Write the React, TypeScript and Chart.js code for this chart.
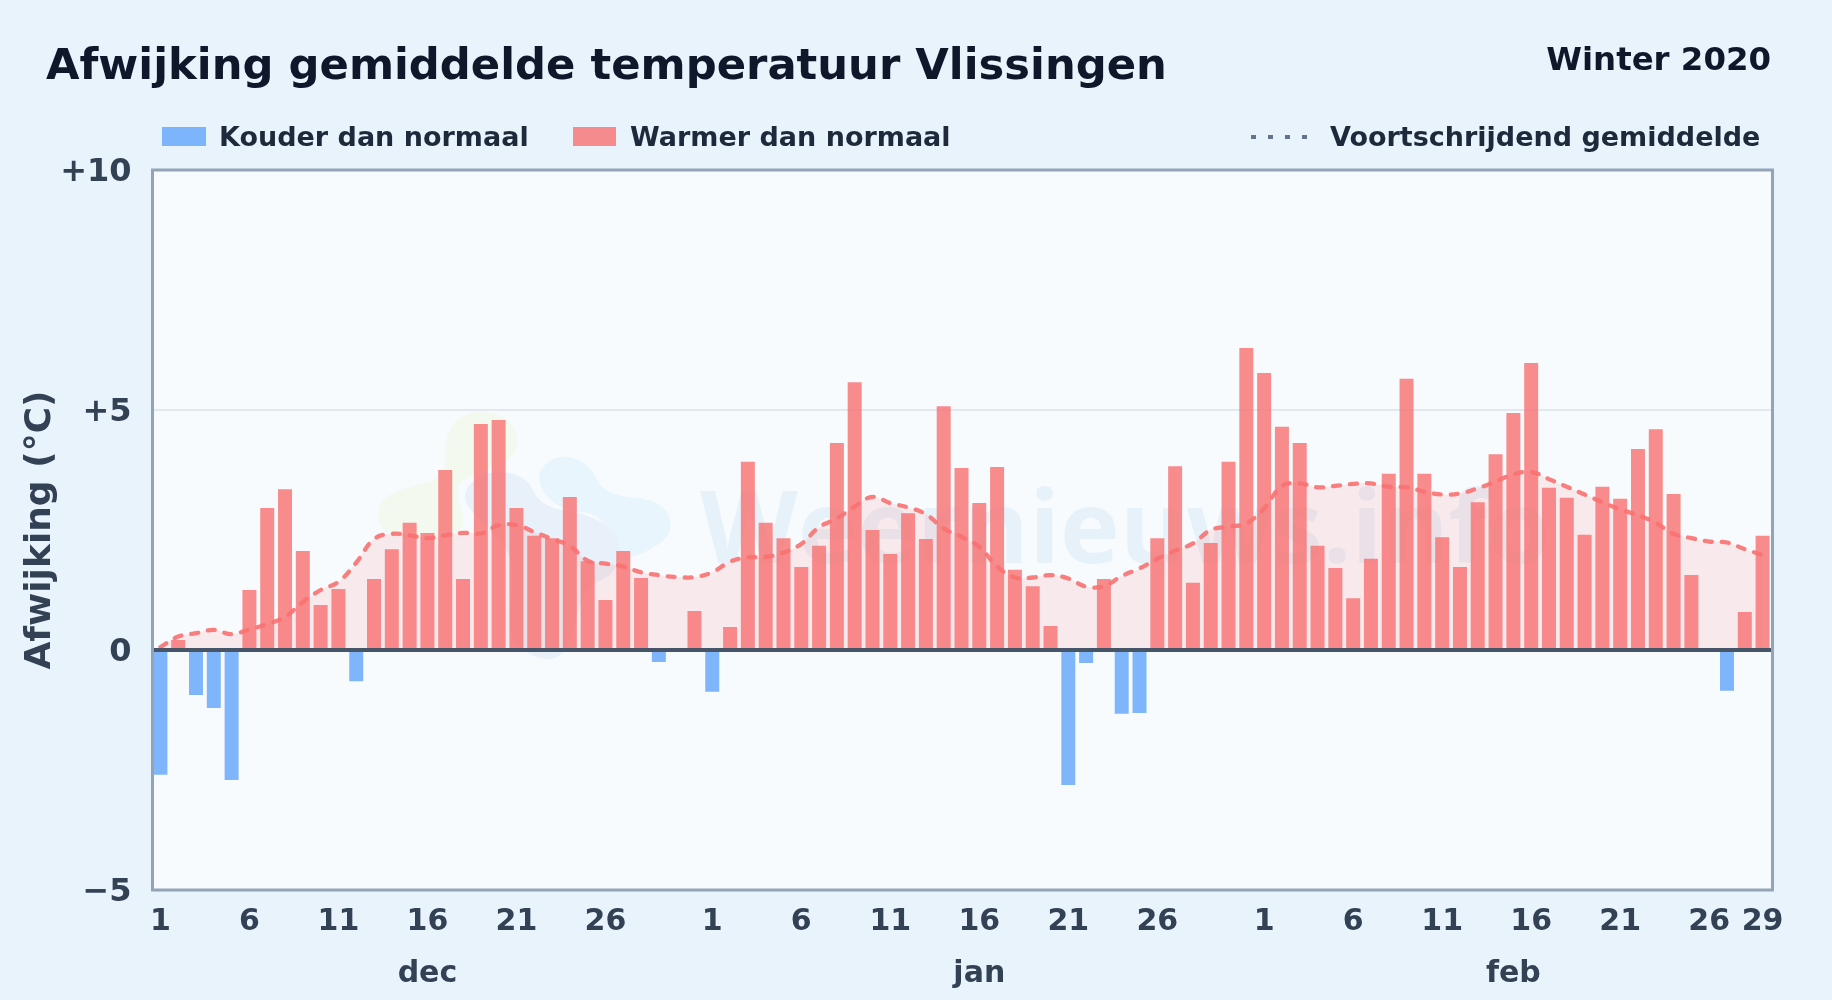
import React, { useEffect, useRef } from "react";
import { Chart, registerables } from "chart.js";

Chart.register(...registerables);

const dayLabels: string[] = [
  ...Array.from({ length: 31 }, (_, i) => String(i + 1)),
  ...Array.from({ length: 31 }, (_, i) => String(i + 1)),
  ...Array.from({ length: 29 }, (_, i) => String(i + 1)),
];
const shownDays = ["1", "6", "11", "16", "21", "26"];
const monthLabels: Record<number, string> = { 15: "dec", 46: "jan", 76: "feb" };

const decAnomaly = [-2.6, 0.21, -0.94, -1.21, -2.71, 1.25, 2.96, 3.35, 2.06, 0.94, 1.27, -0.65, 1.48, 2.1, 2.65, 2.44, 3.75, 1.48, 4.71, 4.79, 2.96, 2.38, 2.33, 3.19, 1.85, 1.04, 2.06, 1.5, -0.25, 0, 0.81];
const janAnomaly = [-0.87, 0.48, 3.92, 2.65, 2.33, 1.73, 2.17, 4.31, 5.58, 2.5, 2.0, 2.85, 2.31, 5.08, 3.79, 3.06, 3.81, 1.67, 1.33, 0.5, -2.81, -0.27, 1.48, -1.33, -1.31, 2.33, 3.83, 1.4, 2.23, 3.92, 6.29];
const febAnomaly = [5.77, 4.65, 4.31, 2.17, 1.71, 1.08, 1.9, 3.67, 5.65, 3.67, 2.35, 1.73, 3.08, 4.08, 4.94, 5.98, 3.38, 3.17, 2.4, 3.4, 3.15, 4.19, 4.6, 3.25, 1.56, 0, -0.85, 0.79, 2.38];

const movingAverage = [
  0.06, 0.28, 0.35, 0.42, 0.33, 0.43, 0.54, 0.69, 1.0, 1.25, 1.42, 1.82, 2.31, 2.42, 2.39, 2.33, 2.39, 2.44, 2.43, 2.6, 2.6, 2.46, 2.31, 2.17, 1.86, 1.8, 1.74, 1.62, 1.56, 1.52, 1.52,
  1.62, 1.84, 1.93, 1.94, 2.03, 2.21, 2.56, 2.74, 2.99, 3.19, 3.06, 2.97, 2.83, 2.53, 2.36, 2.15, 1.74, 1.51, 1.51, 1.56, 1.49, 1.32, 1.33, 1.54, 1.7, 1.9, 2.07, 2.22, 2.5, 2.57,
  2.64, 2.95, 3.42, 3.47, 3.39, 3.42, 3.46, 3.47, 3.4, 3.39, 3.3, 3.24, 3.26, 3.37, 3.51, 3.66, 3.71, 3.56, 3.4, 3.24, 3.08, 2.93, 2.81, 2.65, 2.42, 2.33, 2.26, 2.24, 2.1, 1.98,
];

const yTickLabels: Record<number, string> = { 10: "+10", 5: "+5", 0: "0", [-5]: "−5" };

const titleText = "Afwijking gemiddelde temperatuur Vlissingen";
const subtitleText = "Winter 2020";
const coldLabel = "Kouder dan normaal";
const warmLabel = "Warmer dan normaal";
const lineLabel = "Voortschrijdend gemiddelde";
const yAxisTitle = "Afwijking (°C)";
const watermarkText = "Weernieuws.info";

const FONT = '"DejaVu Sans", sans-serif';
const COLD = "rgba(96,165,250,0.8)";
const WARM = "rgba(248,113,113,0.8)";

function blob(ctx: CanvasRenderingContext2D, pts: number[][], color: string) {
  // closed smooth outline in the watermark's own logo coordinates
  const p = pts.map(([x, y]) => [370 + x / 3, 400 + y / 3]);
  ctx.beginPath();
  const mid = (a: number[], b: number[]) => [(a[0] + b[0]) / 2, (a[1] + b[1]) / 2];
  const s = mid(p[p.length - 1], p[0]);
  ctx.moveTo(s[0], s[1]);
  p.forEach((pt, i) => {
    const m = mid(pt, p[(i + 1) % p.length]);
    ctx.quadraticCurveTo(pt[0], pt[1], m[0], m[1]);
  });
  ctx.closePath();
  ctx.fillStyle = color;
  ctx.fill();
}

const backgroundPlugin = {
  id: "plotBackground",
  beforeDraw(chart: any) {
    const { ctx, chartArea: a } = chart;
    ctx.save();
    ctx.fillStyle = "#f7fbfe";
    ctx.fillRect(a.left, a.top, a.width + 1, a.height);
    blob(ctx, [[225, 90], [300, 30], [400, 40], [450, 110], [430, 180], [320, 215], [250, 260], [300, 400], [150, 420], [30, 400], [20, 310], [90, 265], [230, 235]], "#f4f9f0");
    blob(ctx, [[490, 230], [560, 160], [660, 190], [700, 285], [880, 300], [915, 400], [810, 470], [740, 470], [700, 340], [560, 330]], "#e9f5fd");
    blob(ctx, [[265, 290], [340, 210], [470, 225], [510, 320], [650, 340], [750, 400], [745, 520], [640, 560], [590, 780], [480, 775], [410, 700], [440, 480], [350, 380]], "#e8f1fa");
    ctx.font = `700 101px "Open Sans", ${FONT}`;
    ctx.fillStyle = "rgba(30,110,200,0.07)";
    ctx.textAlign = "left";
    ctx.textBaseline = "alphabetic";
    ctx.fillText(watermarkText, 700, 563);
    ctx.restore();
  },
};

const framePlugin = {
  id: "frameAndHeader",
  afterDatasetsDraw(chart: any) {
    const { ctx, chartArea: a, scales } = chart;
    ctx.save();
    const zero = scales.y.getPixelForValue(0);
    ctx.strokeStyle = "#475569";
    ctx.lineWidth = 4;
    ctx.beginPath();
    ctx.moveTo(a.left + 1, zero);
    ctx.lineTo(a.right + 1, zero);
    ctx.stroke();
    ctx.strokeStyle = "#94a3b8";
    ctx.lineWidth = 3;
    ctx.strokeRect(a.left + 1, a.top, a.width, a.height);
    ctx.restore();
  },
  afterDraw(chart: any) {
    const { ctx } = chart;
    ctx.save();
    ctx.textBaseline = "alphabetic";
    ctx.textAlign = "left";
    ctx.fillStyle = "#0f172a";
    ctx.font = `700 43.3px ${FONT}`;
    ctx.fillText(titleText, 46, 79);
    ctx.textAlign = "right";
    ctx.font = `700 32.4px ${FONT}`;
    ctx.fillText(subtitleText, 1771, 70);

    ctx.textAlign = "left";
    ctx.font = `700 27px ${FONT}`;
    ctx.fillStyle = COLD;
    ctx.fillRect(162, 127, 44, 19);
    ctx.fillStyle = WARM;
    ctx.fillRect(573, 127, 43, 19);
    ctx.fillStyle = "#1e293b";
    ctx.fillText(coldLabel, 219, 146);
    ctx.fillText(warmLabel, 630, 146);
    ctx.fillText(lineLabel, 1330, 146);
    ctx.strokeStyle = "#64748b";
    ctx.lineWidth = 4;
    ctx.setLineDash([5, 12]);
    ctx.beginPath();
    ctx.moveTo(1251, 137);
    ctx.lineTo(1310, 137);
    ctx.stroke();
    ctx.restore();
  },
};

export default function App() {
  const ref = useRef<HTMLCanvasElement | null>(null);
  useEffect(() => {
    document.body.style.margin = "0";
    document.body.style.background = "#e9f3fc";
    const values = [...decAnomaly, ...janAnomaly, ...febAnomaly];
    const chart = new Chart(ref.current as HTMLCanvasElement, {
      type: "bar",
      data: {
        labels: dayLabels,
        datasets: [
          {
            type: "line",
            label: lineLabel,
            data: movingAverage,
            borderColor: "rgba(248,113,113,0.9)",
            borderWidth: 4.3,
            borderDash: [7, 10],
            borderCapStyle: "round",
            backgroundColor: "rgba(248,113,113,0.13)",
            fill: "origin",
            tension: 0.4,
            pointRadius: 0,
            order: 0,
          },
          {
            type: "bar",
            label: "Afwijking",
            data: values,
            backgroundColor: values.map((v) => (v < 0 ? COLD : WARM)),
            barPercentage: 0.786,
            categoryPercentage: 1,
            order: 1,
          },
        ],
      } as any,
      options: {
        responsive: false,
        animation: false,
        devicePixelRatio: 1,
        layout: { padding: { left: 0, top: 170, right: 60.5, bottom: 0 } },
        plugins: { legend: { display: false }, tooltip: { enabled: false }, title: { display: false } },
        scales: {
          x: {
            position: "bottom",
            offset: true,
            grid: { display: false, drawTicks: false },
            border: { display: false },
            ticks: {
              autoSkip: false,
              maxRotation: 0,
              minRotation: 0,
              padding: 14.5,
              color: "#334155",
              font: { family: FONT, size: 30, weight: "700" },
              callback: (_v: any, i: number) => (i === 90 || shownDays.includes(dayLabels[i]) ? dayLabels[i] : ""),
            },
            afterFit: (s: any) => { s.height = 50; },
          },
          x2: {
            type: "category",
            position: "bottom",
            labels: dayLabels,
            offset: true,
            grid: { display: false, drawTicks: false },
            border: { display: false },
            ticks: {
              autoSkip: false,
              maxRotation: 0,
              minRotation: 0,
              padding: 16,
              color: "#334155",
              font: { family: FONT, size: 30, weight: "700" },
              callback: (_v: any, i: number) => monthLabels[i] ?? "",
            },
            afterFit: (s: any) => { s.height = 60; },
          },
          y: {
            min: -5,
            max: 10,
            title: {
              display: true,
              text: yAxisTitle,
              color: "#334155",
              font: { family: FONT, size: 36, weight: "700" },
              padding: { top: 19, bottom: 0 },
            },
            grid: { color: "#e2e8f0", lineWidth: 2, drawTicks: false },
            border: { display: false },
            ticks: {
              stepSize: 5,
              padding: 20,
              labelOffset: 3,
              color: "#334155",
              font: { family: FONT, size: 32, weight: "700" },
              callback: (v: any) => yTickLabels[v] ?? "",
            },
            afterFit: (s: any) => { s.width = 151.5; },
          },
        },
      } as any,
      plugins: [backgroundPlugin, framePlugin],
    });
    return () => chart.destroy();
  }, []);
  return <canvas ref={ref} width={1832} height={1000} style={{ display: "block", width: 1832, height: 1000 }} />;
}
